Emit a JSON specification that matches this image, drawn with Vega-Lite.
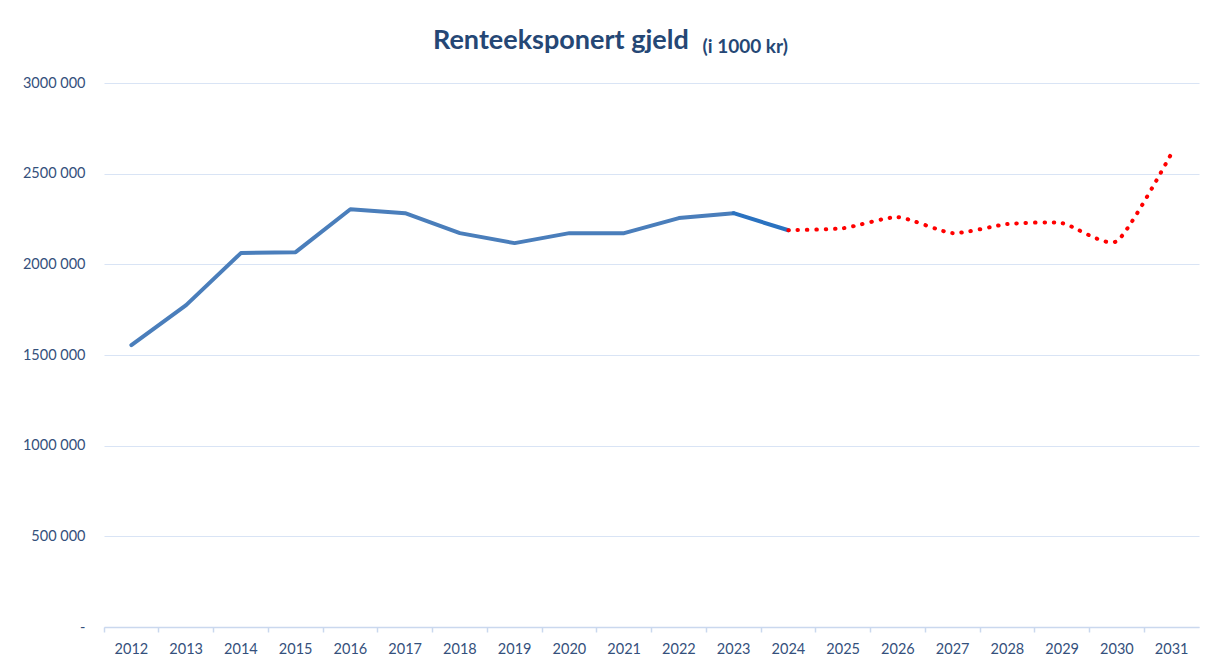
{
  "$schema": "https://vega.github.io/schema/vega-lite/v6.json",
  "width": 1095,
  "height": 544,
  "autosize": {"type": "none"},
  "padding": {"left": 104, "top": 83, "right": 18, "bottom": 39},
  "background": "white",
  "title": {
    "text": "Renteeksponert gjeld",
    "anchor": "start",
    "frame": "group",
    "dx": 329,
    "offset": -18,
    "font": "Lato",
    "fontSize": 27,
    "fontWeight": "bold",
    "color": "#254775"
  },
  "data": {
    "values": [
      {"year": "2012", "value": 1555000, "series": "Historisk"},
      {"year": "2013", "value": 1775000, "series": "Historisk"},
      {"year": "2014", "value": 2062000, "series": "Historisk"},
      {"year": "2015", "value": 2067000, "series": "Historisk"},
      {"year": "2016", "value": 2304000, "series": "Historisk"},
      {"year": "2017", "value": 2282000, "series": "Historisk"},
      {"year": "2018", "value": 2172000, "series": "Historisk"},
      {"year": "2019", "value": 2117000, "series": "Historisk"},
      {"year": "2020", "value": 2172000, "series": "Historisk"},
      {"year": "2021", "value": 2172000, "series": "Historisk"},
      {"year": "2022", "value": 2255000, "series": "Historisk"},
      {"year": "2023", "value": 2282000, "series": "Historisk"},
      {"year": "2023", "value": 2282000, "series": "Siste"},
      {"year": "2024", "value": 2188000, "series": "Siste"},
      {"year": "2024", "value": 2188000, "series": "Prognose"},
      {"year": "2025", "value": 2199000, "series": "Prognose"},
      {"year": "2026", "value": 2260000, "series": "Prognose"},
      {"year": "2027", "value": 2172000, "series": "Prognose"},
      {"year": "2028", "value": 2222000, "series": "Prognose"},
      {"year": "2029", "value": 2227000, "series": "Prognose"},
      {"year": "2030", "value": 2128000, "series": "Prognose"},
      {"year": "2031", "value": 2613000, "series": "Prognose"}
    ]
  },
  "encoding": {
    "x": {
      "field": "year",
      "type": "ordinal",
      "scale": {"type": "band", "paddingInner": 0, "paddingOuter": 0},
      "axis": {
        "title": null,
        "labelAngle": 0,
        "bandPosition": 0,
        "labelFont": "Lato",
        "labelFontSize": 14.5,
        "labelColor": "#34507c",
        "labelPadding": 10,
        "domainColor": "#cad8ee",
        "domainWidth": 1.5,
        "tickColor": "#cad8ee",
        "tickWidth": 1.5,
        "tickSize": 5,
        "grid": false
      }
    },
    "y": {
      "field": "value",
      "type": "quantitative",
      "scale": {"domain": [0, 3000000], "nice": false},
      "axis": {
        "values": [0, 500000, 1000000, 1500000, 2000000, 2500000, 3000000],
        "labelExpr": "datum.value == 0 ? '-' : floor(datum.value / 1000) + ' 000'",
        "labelFont": "Lato",
        "labelFontSize": 14.5,
        "labelColor": "#34507c",
        "labelPadding": 19,
        "ticks": false,
        "domain": false,
        "grid": true,
        "gridColor": "#d9e4f5",
        "gridWidth": 1.2,
        "title": "(i 1000 kr)",
        "titleAngle": 0,
        "titleX": 598,
        "titleY": -31,
        "titleAlign": "left",
        "titleBaseline": "alphabetic",
        "titleFont": "Lato",
        "titleFontSize": 19,
        "titleFontWeight": "bold",
        "titleColor": "#254775"
      }
    }
  },
  "layer": [
    {
      "transform": [{"filter": "datum.series != 'Prognose'"}],
      "mark": {"type": "line", "strokeWidth": 4, "strokeJoin": "round", "strokeCap": "round"},
      "encoding": {
        "detail": {"field": "series"},
        "color": {
          "field": "series",
          "type": "nominal",
          "scale": {"domain": ["Historisk", "Siste"], "range": ["#4a7ebb", "#2a72c0"]},
          "legend": null
        }
      }
    },
    {
      "transform": [{"filter": "datum.series == 'Prognose'"}],
      "mark": {
        "type": "line",
        "color": "#ff0000",
        "strokeWidth": 4,
        "strokeCap": "round",
        "strokeDash": [0.5, 8.8],
        "interpolate": "cardinal",
        "tension": 0.4
      },
      "encoding": {}
    }
  ],
  "config": {"view": {"stroke": null}}
}
